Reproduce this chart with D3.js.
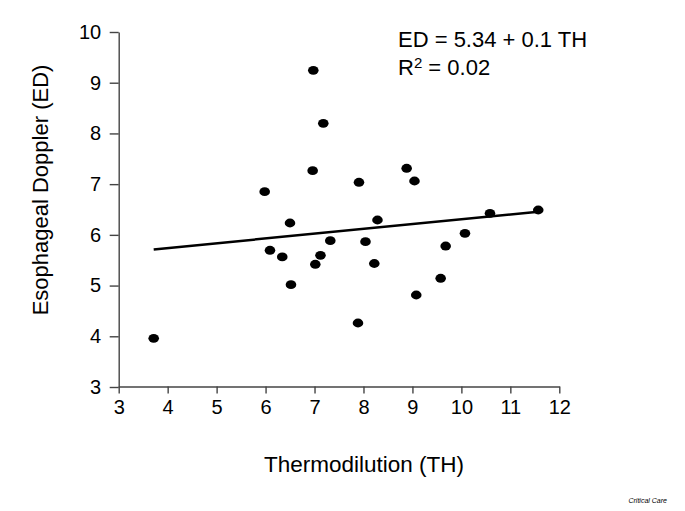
<!DOCTYPE html>
<html>
<head>
<meta charset="utf-8">
<script src="https://cdn.jsdelivr.net/npm/d3@7/dist/d3.min.js"></script>
<style>
  html, body { margin: 0; padding: 0; background: #fff; }
  svg { display: block; font-family: "Liberation Sans", Arial, Helvetica, sans-serif; }
</style>
</head>
<body>
<svg id="chart" width="685" height="511"></svg>
<script>
// ---- data ----
const thermodilution = [3.715, 5.982, 6.09, 6.341, 6.499, 6.519, 6.975, 6.962, 7.179, 7.016, 7.122, 7.322, 7.888, 7.908, 8.041, 8.221, 8.286, 8.882, 9.042, 9.078, 9.577, 9.679, 10.073, 10.584, 11.57];
const esophagealDoppler = [3.96, 6.851, 5.696, 5.564, 6.234, 5.017, 9.245, 7.265, 8.2, 5.42, 5.597, 5.885, 4.262, 7.037, 5.865, 5.435, 6.293, 7.313, 7.062, 4.814, 5.144, 5.78, 6.031, 6.425, 6.49];
const fitLineX = [3.715, 11.57];
const fitLineY = [5.712, 6.457];
const xTicks = [3, 4, 5, 6, 7, 8, 9, 10, 11, 12];
const yTicks = [3, 4, 5, 6, 7, 8, 9, 10];
const xTitle = "Thermodilution (TH)";
const yTitle = "Esophageal Doppler (ED)";
const equationText = "ED = 5.34 + 0.1 TH";
const r2Value = "0.02";
const sourceText = "Critical Care";

// ---- chart ----
const svg = d3.select("#chart");
const x = d3.scaleLinear().domain([3, 12]).range([118.7, 559.3]);
const y = d3.scaleLinear().domain([3, 10]).range([387, 32]);
const axisColor = "#444";

const gx = svg.append("g").attr("transform", "translate(0,386.5)")
  .call(d3.axisBottom(x).tickValues(xTicks).tickFormat(d3.format("d")).tickSizeInner(7).tickSizeOuter(0).tickPadding(6));
const gy = svg.append("g").attr("transform", "translate(118.7,0)")
  .call(d3.axisLeft(y).tickValues(yTicks).tickFormat(d3.format("d")).tickSizeInner(9).tickSizeOuter(0).tickPadding(8.5));

[gx, gy].forEach(g => {
  g.select(".domain").attr("stroke", axisColor).attr("stroke-width", 1.4);
  g.selectAll(".tick line").attr("stroke", axisColor).attr("stroke-width", 1.4);
  g.selectAll(".tick text").attr("fill", "#000").style("font-size", "20px")
    .style("font-family", "'Liberation Sans', Arial, Helvetica, sans-serif");
});

// regression line
const line = d3.line().x(d => x(d[0])).y(d => y(d[1]));
svg.append("path")
  .datum(fitLineX.map((v, i) => [v, fitLineY[i]]))
  .attr("d", line)
  .attr("stroke", "#000").attr("stroke-width", 2.5).attr("fill", "none");

// points
svg.append("g").selectAll("ellipse")
  .data(thermodilution.map((v, i) => [v, esophagealDoppler[i]]))
  .join("ellipse")
  .attr("cx", d => x(d[0])).attr("cy", d => y(d[1]))
  .attr("rx", 5.3).attr("ry", 4.4)
  .attr("fill", "#000");

// axis titles
svg.append("text")
  .attr("x", 364).attr("y", 472)
  .attr("text-anchor", "middle")
  .style("font-size", "22.5px")
  .text(xTitle);

svg.append("text")
  .attr("transform", "translate(48,190) rotate(-90)")
  .attr("text-anchor", "middle")
  .style("font-size", "22px")
  .text(yTitle);

// equation annotation
svg.append("text")
  .attr("x", 398).attr("y", 47.3)
  .style("font-size", "22px")
  .text(equationText);

const r2 = svg.append("text")
  .attr("x", 398).attr("y", 74.5)
  .style("font-size", "22px");
r2.append("tspan").text("R");
r2.append("tspan").attr("dy", -7).style("font-size", "15px").text("2");
r2.append("tspan").attr("dy", 7).text(" = " + r2Value);

// source
svg.append("text")
  .attr("x", 667).attr("y", 503)
  .attr("text-anchor", "end")
  .style("font-size", "7px").style("font-style", "italic")
  .text(sourceText);
</script>
</body>
</html>
